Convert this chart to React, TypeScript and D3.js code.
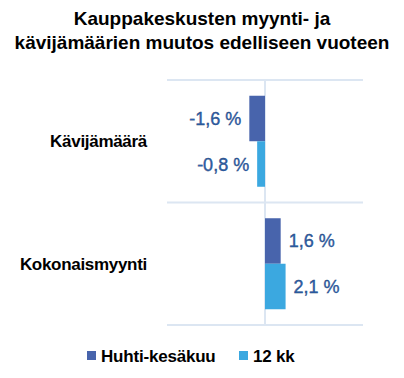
import React from "react";
import * as d3 from "d3";

const titleLines = ["Kauppakeskusten myynti- ja", "kävijämäärien muutos edelliseen vuoteen"];
const categories = ["Kävijämäärä", "Kokonaismyynti"];
const seriesNames = ["Huhti-kesäkuu", "12 kk"];
const seriesColors = ["#4864AC", "#3BA8E0"];
const huhtiKesakuu = [-1.6, 1.6];
const kk12 = [-0.8, 2.1];
const seriesValues = [huhtiKesakuu, kk12];

const W = 404;
const H = 378;

export default function App() {
  const x = d3.scaleLinear().domain([-10, 10]).range([167, 363]);
  const y = d3.scaleBand<string>().domain(categories).range([80, 325]).paddingInner(0).paddingOuter(0);
  const inner = d3
    .scaleBand<string>()
    .domain(seriesNames)
    .range([0, y.bandwidth()])
    .paddingInner(0)
    .paddingOuter(0.346);
  const fmt = (v: number) => d3.format(".1f")(v).replace(".", ",").replace("\u2212", "-") + " %";
  const gridYs = [...categories.map((c) => y(c)!), y.range()[1]];
  const font = "'Liberation Sans', Arial, sans-serif";

  return (
    <svg
      width={W}
      height={H}
      style={{ position: "absolute", left: 0, top: 0, background: "#fff" }}
      fontFamily={font}
    >
      {titleLines.map((t, i) => (
        <text key={i} x={W / 2} y={25 + i * 23.5} textAnchor="middle" fontSize={19} fontWeight="bold" fill="#000">
          {t}
        </text>
      ))}
      {gridYs.map((gy, i) => (
        <line key={i} x1={x.range()[0]} x2={x.range()[1]} y1={gy} y2={gy} stroke="#DCE6F2" strokeWidth={2} />
      ))}
      <line x1={x(0)} x2={x(0)} y1={y.range()[0]} y2={y.range()[1]} stroke="#DCE6F2" strokeWidth={2} />
      {categories.map((c) => (
        <text
          key={c}
          x={147}
          y={y(c)! + y.bandwidth() / 2 + 6}
          textAnchor="end"
          fontSize={17}
          fontWeight="bold"
          fill="#000"
          letterSpacing={-0.3}
        >
          {c}
        </text>
      ))}
      {seriesNames.map((s, si) =>
        categories.map((c, ci) => {
          const v = seriesValues[si][ci];
          const by = y(c)! + inner(s)!;
          const bh = inner.bandwidth();
          const x0 = x(Math.min(0, v));
          const x1 = x(Math.max(0, v));
          const lx = v < 0 ? x0 - 8 : x1 + 8;
          return (
            <g key={s + c}>
              <rect x={x0} y={by} width={x1 - x0} height={bh} fill={seriesColors[si]} />
              <text
                x={lx}
                y={by + bh / 2 + 6.5}
                textAnchor={v < 0 ? "end" : "start"}
                fontSize={18}
                fill="#2D62AE"
                stroke="#1F3F73"
                strokeWidth={0.35}
              >
                {fmt(v)}
              </text>
            </g>
          );
        })
      )}
      {seriesNames.map((s, i) => {
        const lx = [87, 239][i];
        return (
          <g key={s}>
            <rect x={lx} y={351} width={9} height={9} fill={seriesColors[i]} />
            <text x={lx + 14} y={362} fontSize={17} fontWeight="bold" fill="#000" letterSpacing={-0.2}>
              {s}
            </text>
          </g>
        );
      })}
    </svg>
  );
}
